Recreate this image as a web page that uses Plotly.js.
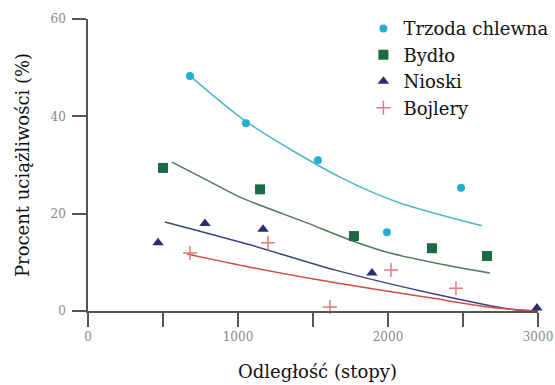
<!DOCTYPE html>
<html><head><meta charset="utf-8">
<script src="https://cdn.plot.ly/plotly-3.0.1.min.js"></script>
<style>html,body{margin:0;padding:0;background:#fff}#chart{width:555px;height:385px}</style>
</head><body><div id="chart"></div>
<script>
// Observed points
const trzodaX = [680, 1053, 1533, 1993, 2487];
const trzodaY = [48.3, 38.6, 31.0, 16.2, 25.3];
const bydloX = [500, 1147, 1773, 2293, 2660];
const bydloY = [29.4, 25.0, 15.4, 12.9, 11.3];
const nioskiX = [467, 780, 1167, 1893, 2993];
const nioskiY = [14.0, 18.0, 16.8, 7.8, 0.6];
const bojleryX = [680, 1200, 1613, 2020, 2453];
const bojleryY = [11.9, 14.0, 0.8, 8.4, 4.7];
// Fitted curves
const trzodaFitX = [680, 1060, 1680, 2060, 2627];
const trzodaFitY = [48.3, 38.8, 27.5, 22.4, 17.5];
const bydloFitX = [560, 793, 1013, 1460, 1747, 2013, 2393, 2680];
const bydloFitY = [30.6, 26.9, 23.4, 18.1, 14.6, 11.9, 9.4, 7.8];
const nioskiFitX = [513, 1080, 1650, 2280, 2833, 3000];
const nioskiFitY = [18.3, 13.6, 8.4, 3.7, 0.3, 0.0];
const bojleryFitX = [660, 1080, 1650, 2280, 2727, 3000];
const bojleryFitY = [11.7, 9.0, 5.8, 2.7, 0.6, 0.0];
const names = ['Trzoda chlewna', 'Bydło', 'Nioski', 'Bojlery'];
const xTicks = [0, 500, 1000, 1500, 2000, 2500, 3000];
const xTickText = ['0', '', '1000', '', '2000', '', '3000'];
const yTicks = [0, 20, 40, 60];

const serif = 'DejaVu Serif, Liberation Serif, serif';
function line(x, y, c) {
  return {x: x, y: y, mode: 'lines', type: 'scatter', line: {color: c, width: 1.5, shape: 'spline', smoothing: 0.8}, showlegend: false, hoverinfo: 'skip', cliponaxis: false};
}
function pts(x, y, name, marker) {
  return {x: x, y: y, mode: 'markers', type: 'scatter', name: name, marker: marker, cliponaxis: false};
}
const data = [
  line(trzodaFitX, trzodaFitY, '#4fb6c6'),
  line(bydloFitX, bydloFitY, '#4f7a5c'),
  line(nioskiFitX, nioskiFitY, '#3a4680'),
  line(bojleryFitX, bojleryFitY, '#d84a4a'),
  pts(trzodaX, trzodaY, names[0], {symbol: 'circle', size: 8, color: '#25aed3'}),
  pts(bydloX, bydloY, names[1], {symbol: 'square', size: 10, color: '#1b6a45'}),
  pts(nioskiX, nioskiY, names[2], {symbol: 'triangle-up', size: 10, color: '#2a2d6e'}),
  pts(bojleryX, bojleryY, names[3], {symbol: 'cross-thin-open', size: 10, line: {color: '#e07c7c', width: 1.5}, color: '#e07c7c'})
];
const layout = {
  width: 555, height: 385,
  margin: {l: 88, r: 17, t: 19, b: 74, autoexpand: false},
  paper_bgcolor: '#fff', plot_bgcolor: '#fff',
  showlegend: true,
  legend: {x: 0.612, y: 1.03, xanchor: 'left', yanchor: 'top', bgcolor: 'rgba(0,0,0,0)',
    font: {family: serif, size: 18, color: '#111'}, tracegroupgap: 0, itemwidth: 30},
  xaxis: {range: [0, 3000], showgrid: false, zeroline: false, showline: true, linecolor: '#555', linewidth: 1.5,
    tickmode: 'array', tickvals: xTicks, ticktext: xTickText, ticks: 'outside', ticklen: 14, tickcolor: '#555', tickwidth: 1.5,
    tickfont: {family: serif, size: 12, color: '#888'}},
  yaxis: {range: [0, 60], showgrid: false, zeroline: false, showline: true, linecolor: '#555', linewidth: 1.5,
    tickmode: 'array', tickvals: yTicks, ticks: 'outside', ticklen: 14, tickcolor: '#555', tickwidth: 1.5,
    ticklabelstandoff: 4,
    tickfont: {family: serif, size: 12, color: '#888'},
    title: {text: 'Procent uciążliwości (%)', font: {family: serif, size: 18, color: '#111'}, standoff: 16}},
  annotations: [{text: 'Odległość (stopy)', xref: 'paper', yref: 'paper', x: 0.51, y: 0, yshift: -60, xanchor: 'center', yanchor: 'middle',
    showarrow: false, font: {family: serif, size: 18, color: '#111'}}]
};
Plotly.newPlot('chart', data, layout, {displayModeBar: false});
</script></body></html>
